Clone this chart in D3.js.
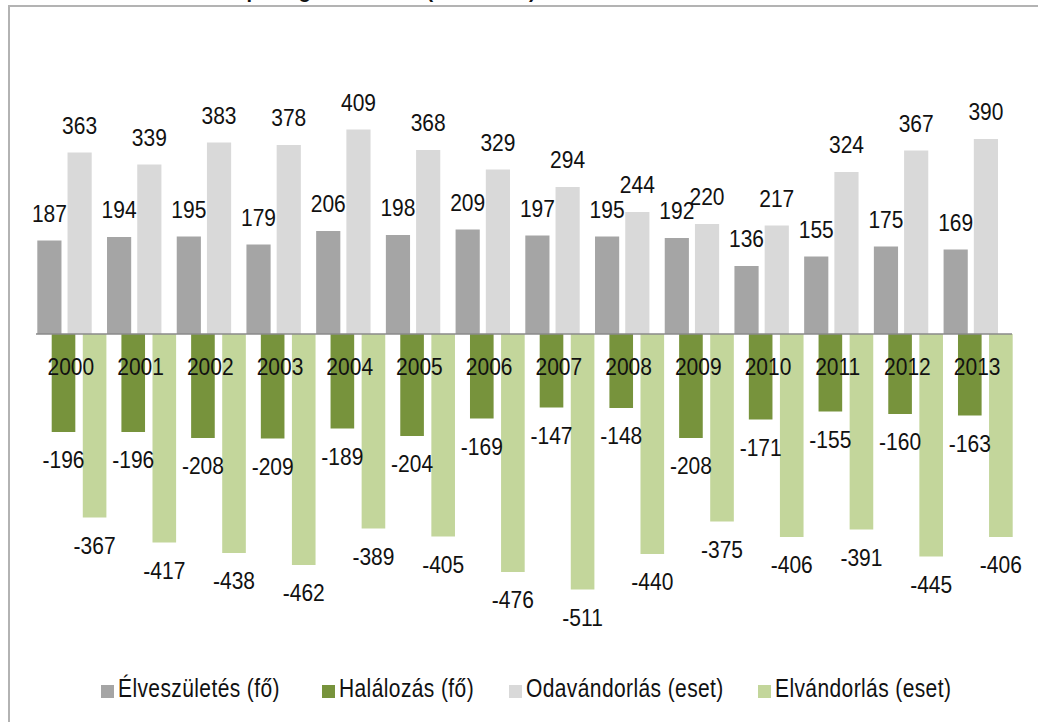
<!DOCTYPE html>
<html><head><meta charset="utf-8">
<script src="https://cdn.jsdelivr.net/npm/d3@7/dist/d3.min.js"></script>
<style>
html,body{margin:0;padding:0;background:#fff;}
svg text{font-family:"Liberation Sans",Arial,sans-serif;fill:#111;}
</style></head>
<body><svg id="c" width="1038" height="722"></svg>
<script>
const years = ["2000","2001","2002","2003","2004","2005","2006","2007","2008","2009","2010","2011","2012","2013"];
const elveszuletes = [187,194,195,179,206,198,209,197,195,192,136,155,175,169];
const odavandorlas = [363,339,383,378,409,368,329,294,244,220,217,324,367,390];
const halalozas = [-196,-196,-208,-209,-189,-204,-169,-147,-148,-208,-171,-155,-160,-163];
const elvandorlas = [-367,-417,-438,-462,-389,-405,-476,-511,-440,-375,-406,-391,-445,-406];
const seriesNames = ["Élveszületés (fő)","Halálozás (fő)","Odavándorlás (eset)","Elvándorlás (eset)"];
const colors = ["#a5a5a5","#77933c","#d9d9d9","#c3d69b"];
const title = "Népmozgalmi adatok (2000-2013)";

const svg = d3.select("#c");
const FS = 21;

function txt(g, x, y, s, anchor, sy){
  return g.append("text").attr("transform",`translate(${x},${y}) scale(1,${sy||1.1})`)
    .attr("text-anchor",anchor||"middle").attr("font-size",FS).text(s);
}

// frame
svg.append("rect").attr("x",9).attr("y",6).attr("width",1060).attr("height",740)
  .attr("fill","none").attr("stroke","#b3b3b3").attr("stroke-width",2);
// title, clipped by the top edge as in the reference
svg.append("text").attr("x",221).attr("y",-2).attr("font-size",20).attr("font-weight","bold").text(title);

const x = d3.scaleBand().domain(years).range([36,1012]).padding(0);
const y = d3.scaleLinear().domain([0,400]).range([334,134]);
const xPos = d3.scaleBand().domain([0,1]).range([1.3,55.7]).paddingInner(0.2);
const xNeg = d3.scaleBand().domain([0,1]).range([15.7,70.4]).paddingInner(0.24);

const posSeries = [{vals:elveszuletes,c:colors[0],k:0},{vals:odavandorlas,c:colors[2],k:1}];
const negSeries = [{vals:halalozas,c:colors[1],k:0},{vals:elvandorlas,c:colors[3],k:1}];

const gb = svg.append("g");
posSeries.forEach(s=>{
  gb.selectAll(null).data(s.vals).enter().append("rect")
    .attr("x",(d,i)=>x(years[i])+xPos(s.k)).attr("width",xPos.bandwidth())
    .attr("y",d=>y(d)).attr("height",d=>y(0)-y(d)).attr("fill",s.c);
});
negSeries.forEach(s=>{
  gb.selectAll(null).data(s.vals).enter().append("rect")
    .attr("x",(d,i)=>x(years[i])+xNeg(s.k)).attr("width",xNeg.bandwidth())
    .attr("y",y(0)).attr("height",d=>y(d)-y(0)).attr("fill",s.c);
});
// zero axis line
svg.append("line").attr("x1",36).attr("x2",1012).attr("y1",y(0)).attr("y2",y(0))
  .attr("stroke","#8a8a8a").attr("stroke-width",1.6);

// year labels
const gl = svg.append("g");
years.forEach(yr=>txt(gl, x(yr)+x.bandwidth()/2, 375, yr));

// value labels
posSeries.forEach(s=>{
  s.vals.forEach((d,i)=>txt(gl, x(years[i])+xPos(s.k)+xPos.bandwidth()/2, y(d)-19, String(d)));
});
negSeries.forEach(s=>{
  s.vals.forEach((d,i)=>txt(gl, x(years[i])+xNeg(s.k)+xNeg.bandwidth()/2, y(d)+36, String(d)));
});

// legend
const legX = [101,322,509,758];
const leg = svg.append("g");
seriesNames.forEach((n,i)=>{
  leg.append("rect").attr("x",legX[i]).attr("y",685).attr("width",13).attr("height",13).attr("fill",colors[i]);
  txt(leg, legX[i]+17, 697, n, "start", 1.22).attr("letter-spacing",0.4);
});
</script></body></html>
